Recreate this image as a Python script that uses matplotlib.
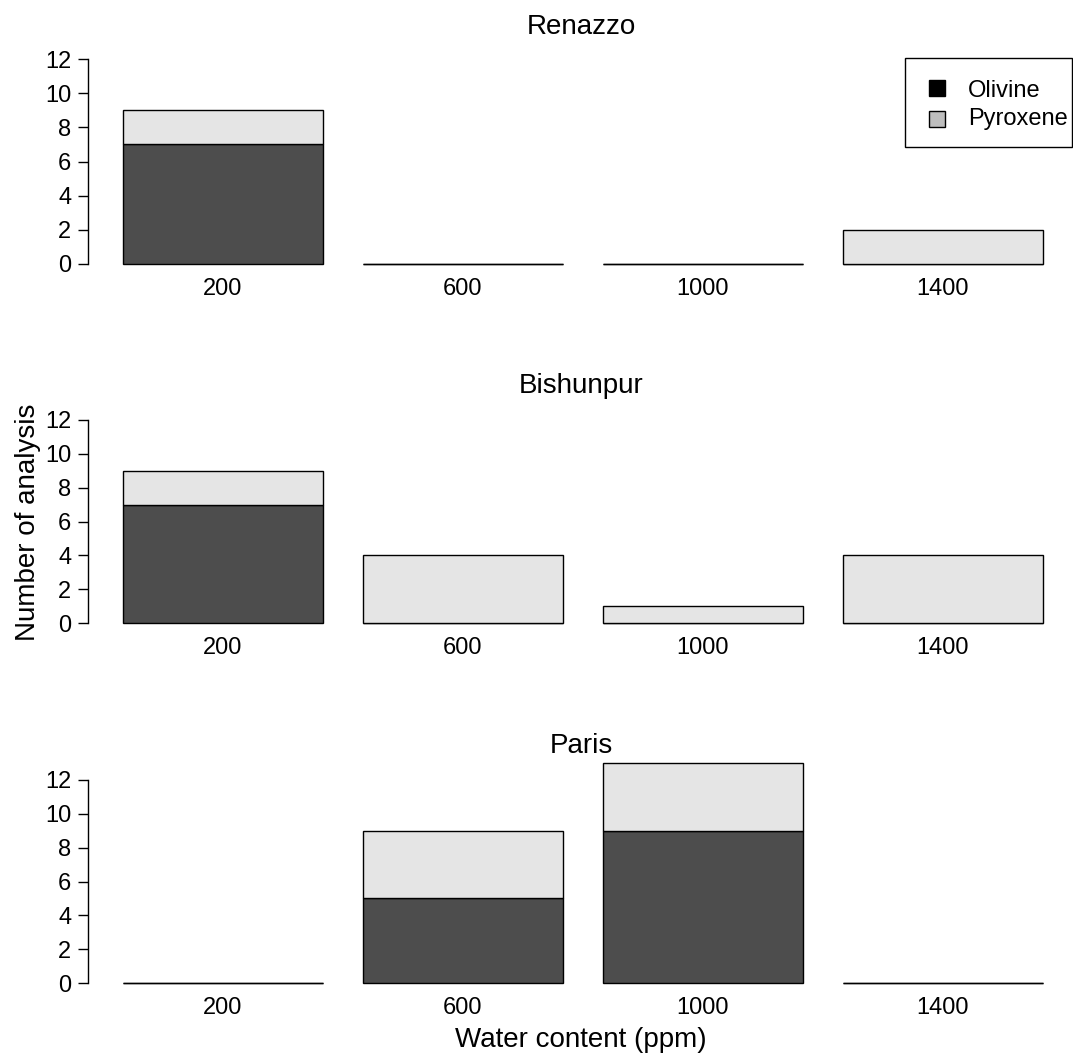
import matplotlib
matplotlib.use("Agg")
import matplotlib.pyplot as plt
from matplotlib.patches import Rectangle

plt.rcParams['font.family'] = ['Liberation Sans', 'DejaVu Sans']

# Data
water_content = ["200", "600", "1000", "1400"]
meteorites = ["Renazzo", "Bishunpur", "Paris"]
olivine = {
    "Renazzo": [7, 0, 0, 0],
    "Bishunpur": [7, 0, 0, 0],
    "Paris": [0, 5, 9, 0],
}
pyroxene = {
    "Renazzo": [2, 0, 0, 2],
    "Bishunpur": [2, 4, 1, 4],
    "Paris": [0, 4, 4, 0],
}
legend_labels = ["Olivine", "Pyroxene"]
legend_colors = ["black", "#bebebe"]

W, H = 1073, 1057
fig = plt.figure(figsize=(W / 100, H / 100), dpi=100)

# pixel positions of y=0 and y=12 in each panel
zero_px = [264, 623, 983]
twelve_px = [59, 420, 780]

x0_px = 83.0      # data x = 0
unit_px = 200.0   # one bar width
ax_left_px, ax_right_px = 88.0, 1073.0
ylo, yhi = -0.48, 12.48

centers = [0.7, 1.9, 3.1, 4.3]


def fx(px):
    return px / W


def fy(py):
    return 1 - py / H


for i, name in enumerate(meteorites):
    scale = (zero_px[i] - twelve_px[i]) / 12.0
    bot_px = zero_px[i] - ylo * scale
    top_px = zero_px[i] - yhi * scale
    ax = fig.add_axes([fx(ax_left_px), fy(bot_px),
                       (ax_right_px - ax_left_px) / W, (bot_px - top_px) / H])
    ol = olivine[name]
    py = pyroxene[name]
    b1 = ax.bar(centers, ol, width=1.0, color="#4d4d4d", edgecolor="black", linewidth=1.0)
    b2 = ax.bar(centers, py, width=1.0, bottom=ol, color="#e5e5e5", edgecolor="black", linewidth=1.0)
    for r in list(b1) + list(b2):
        r.set_clip_on(False)
    ax.set_xlim((ax_left_px - x0_px) / unit_px, (ax_right_px - x0_px) / unit_px)
    ax.set_ylim(ylo, yhi)
    for s in ["top", "right", "bottom"]:
        ax.spines[s].set_visible(False)
    ax.spines["left"].set_bounds(0, 12)
    ax.spines["left"].set_linewidth(1.0)
    ax.set_yticks(range(0, 13, 2))
    ax.tick_params(axis="y", length=7, width=1.0, labelsize=17, pad=5)
    ax.set_xticks(centers)
    ax.set_xticklabels(water_content)
    ax.tick_params(axis="x", length=0, labelsize=17, pad=4)
    ax.patch.set_alpha(0)
    fig.text(fx(581), fy(zero_px[i] - 237), name, ha="center", va="center", fontsize=20)

# legend box drawn by hand, R style
fig.patches.append(Rectangle((fx(905), fy(147)), (1072 - 905) / W, (147 - 58) / H,
                             transform=fig.transFigure, facecolor="white",
                             edgecolor="black", linewidth=1.0))
sq_y = [88, 119]
txt_y = [91, 119]
for k, (lab, col) in enumerate(zip(legend_labels, legend_colors)):
    fig.patches.append(Rectangle((fx(929), fy(sq_y[k] + 7.5)), 16 / W, 15 / H,
                                 transform=fig.transFigure, facecolor=col,
                                 edgecolor="black", linewidth=1.0))
    fig.text(fx(968), fy(txt_y[k]), lab, ha="left", va="center", fontsize=17)

fig.text(fx(28), fy(522), "Number of analysis", rotation=90, ha="center", va="center", fontsize=20)
fig.text(fx(581), fy(1040), "Water content (ppm)", ha="center", va="center", fontsize=20)

fig.savefig("out.png", dpi=100)
